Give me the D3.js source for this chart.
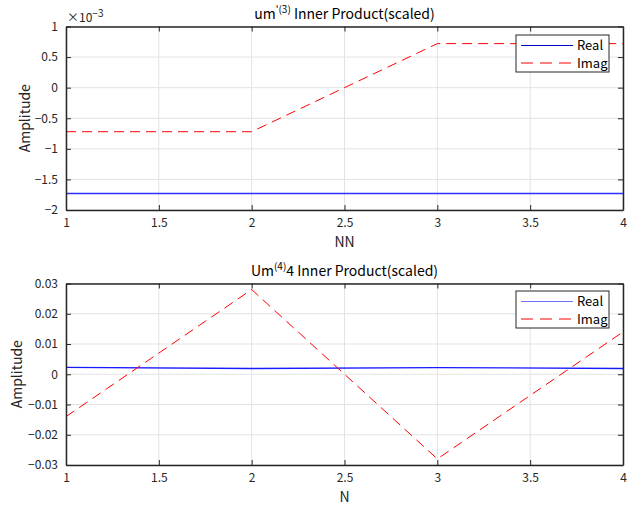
<!DOCTYPE html>
<html>
<head>
<meta charset="utf-8">
<script src="https://cdn.jsdelivr.net/npm/d3@7"></script>
<style>
  html, body { margin: 0; padding: 0; background: #fff; }
  svg { display: block; font-family: "Noto Sans CJK JP", "Liberation Sans", sans-serif; }
</style>
</head>
<body>
<svg id="chart" width="640" height="505"></svg>
<script>
// Sample positions shared by both panels
const xValues = [1, 2, 3, 4];

// Panel 1: um'(3) inner product (values in units of 1e-3)
const topReal = [-1.73, -1.73, -1.73, -1.73];
const topImag = [-0.72, -0.72, 0.72, 0.72];
const topYTicks = [1, 0.5, 0, -0.5, -1, -1.5, -2];

// Panel 2: Um(4)4 inner product
const botReal = [0.0023, 0.0019, 0.0022, 0.0019];
const botImag = [-0.014, 0.028, -0.028, 0.014];
const botYTicks = [0.03, 0.02, 0.01, 0, -0.01, -0.02, -0.03];

const xTicks = [1, 1.5, 2, 2.5, 3, 3.5, 4];
const seriesNames = ["Real", "Imag"];

const FONT = "'Noto Sans CJK JP', 'Liberation Sans', sans-serif";
const svg = d3.select("#chart");
svg.append("rect").attr("width", 640).attr("height", 505).attr("fill", "#fff");

const fmt = v => (v < 0 ? "\u2212" : "") + String(Math.abs(v));

function panel(opts) {
  const { top, bottom, yDomain, yTicks, real, imag, xLabel, yLabelX, titleParts, titleY,
          legendTop, realLegendColor, realColor, realWidth, exponent } = opts;
  const left = 66, right = 623;
  const x = d3.scaleLinear().domain([1, 4]).range([left, right]);
  const y = d3.scaleLinear().domain(yDomain).range([bottom, top]);
  const g = svg.append("g");

  // grid
  g.append("g").selectAll("line").data(xTicks).join("line")
    .attr("x1", d => x(d)).attr("x2", d => x(d)).attr("y1", top).attr("y2", bottom)
    .attr("stroke", "#e3e3e3").attr("stroke-width", 1);
  g.append("g").selectAll("line").data(yTicks).join("line")
    .attr("y1", d => y(d)).attr("y2", d => y(d)).attr("x1", left).attr("x2", right)
    .attr("stroke", "#e3e3e3").attr("stroke-width", 1);

  // data lines
  const line = d3.line().x((d, i) => x(xValues[i])).y(d => y(d));
  g.append("path").datum(real).attr("d", line).attr("fill", "none")
    .attr("stroke", realColor).attr("stroke-width", realWidth);
  g.append("path").datum(imag).attr("d", line).attr("fill", "none")
    .attr("stroke", "#ff0000").attr("stroke-width", 1).attr("stroke-dasharray", "10,6");

  // axes with inward ticks on all four sides
  const tl = 5;
  const axisColor = "#262626";
  const xb = g.append("g").attr("transform", `translate(0,${bottom})`)
    .call(d3.axisBottom(x).tickValues(xTicks).tickSizeInner(-tl).tickSizeOuter(0).tickFormat(fmt).tickPadding(8));
  const xt = g.append("g").attr("transform", `translate(0,${top})`)
    .call(d3.axisTop(x).tickValues(xTicks).tickSizeInner(-tl).tickSizeOuter(0).tickFormat(""));
  const yl = g.append("g").attr("transform", `translate(${left},0)`)
    .call(d3.axisLeft(y).tickValues(yTicks).tickSizeInner(-tl).tickSizeOuter(0).tickFormat(fmt).tickPadding(8));
  const yr = g.append("g").attr("transform", `translate(${right},0)`)
    .call(d3.axisRight(y).tickValues(yTicks).tickSizeInner(-tl).tickSizeOuter(0).tickFormat(""));
  [xb, xt, yl, yr].forEach(a => {
    a.select(".domain").attr("stroke", axisColor).attr("stroke-width", 1.5);
    a.selectAll(".tick line").attr("stroke", axisColor);
    a.selectAll("text").attr("fill", "#262626").style("font-size", "12px").style("font-family", FONT);
  });

  // axis labels
  g.append("text").attr("x", (left + right) / 2).attr("y", bottom + 37)
    .attr("text-anchor", "middle").attr("fill", "#262626").style("font-size", "14px").text(xLabel);
  g.append("text").attr("transform", `translate(${yLabelX},${(top + bottom) / 2}) rotate(-90)`)
    .attr("text-anchor", "middle").attr("fill", "#262626").style("font-size", "14px").text("Amplitude");

  // title with superscript part
  const t = g.append("text").attr("x", (left + right) / 2).attr("y", titleY)
    .attr("text-anchor", "middle").attr("fill", "#000").style("font-size", "14px");
  titleParts.forEach(p => {
    const s = t.append("tspan").text(p.text);
    if (p.sup) s.attr("dy", -6).style("font-size", "10px");
    else if (p.after) s.attr("dy", 6);
  });

  // exponent marker above the y axis
  if (exponent) {
    const e = g.append("text").attr("x", left + 1).attr("y", top - 5).attr("fill", "#262626")
      .style("font-size", "12px");
    e.append("tspan").text("\u00d710");
    e.append("tspan").text(exponent).attr("dy", -5).style("font-size", "10px");
  }

  // legend
  const lx = 516, lw = 93, lh = 37;
  const lg = g.append("g").attr("transform", `translate(${lx},${legendTop})`);
  lg.append("rect").attr("width", lw).attr("height", lh).attr("fill", "#fff")
    .attr("stroke", "#262626").attr("stroke-width", 1);
  seriesNames.forEach((name, i) => {
    const yy = 10.5 + i * 17.5;
    lg.append("line").attr("x1", 5).attr("x2", 57).attr("y1", yy).attr("y2", yy)
      .attr("stroke", i === 0 ? realLegendColor : "#ff0000").attr("stroke-width", 1)
      .attr("stroke-dasharray", i === 0 ? null : "12,7");
    lg.append("text").attr("x", 61).attr("y", yy).attr("dy", "0.35em")
      .attr("fill", "#000").style("font-size", "13px").text(name);
  });
}

panel({
  top: 26.5, bottom: 210, yDomain: [-2, 1], yTicks: topYTicks,
  real: topReal, imag: topImag, xLabel: "NN", yLabelX: 30,
  titleParts: [{ text: "um" }, { text: "'(3)", sup: true }, { text: " Inner Product(scaled)", after: true }],
  titleY: 19, legendTop: 35, realLegendColor: "#0000c8", realColor: "#2f2fff", realWidth: 1.5,
  exponent: "\u22123"
});

panel({
  top: 283.5, bottom: 465, yDomain: [-0.03, 0.03], yTicks: botYTicks,
  real: botReal, imag: botImag, xLabel: "N", yLabelX: 22,
  titleParts: [{ text: "Um" }, { text: "(4)", sup: true }, { text: "4 Inner Product(scaled)", after: true }],
  titleY: 276, legendTop: 291, realLegendColor: "#7070ff", realColor: "#1a1aff", realWidth: 1.3,
  exponent: null
});
</script>
</body>
</html>
